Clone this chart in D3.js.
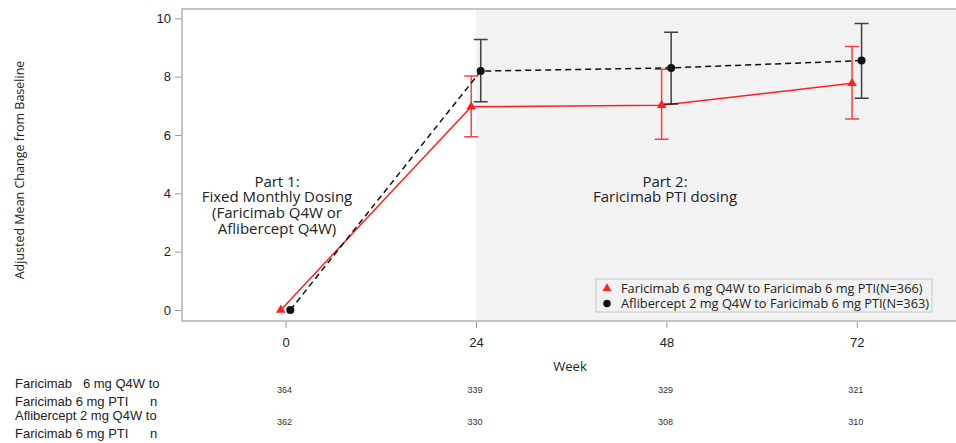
<!DOCTYPE html>
<html>
<head>
<meta charset="utf-8">
<script src="https://cdn.jsdelivr.net/npm/d3@7"></script>
<style>
  html, body { margin: 0; padding: 0; background: #fff; }
  svg { display: block; font-family: "Open Sans", "Liberation Sans", sans-serif; }
</style>
</head>
<body>
<svg id="chart" width="956" height="443"></svg>
<script>
// Visits (weeks)
const weeks = [0, 24, 48, 72];

// Faricimab 6 mg Q4W -> Faricimab 6 mg PTI
const faricimabMean  = [0, 6.97, 7.02, 7.77];
const faricimabLower = [null, 5.94, 5.85, 6.55];
const faricimabUpper = [null, 8.02, 8.25, 9.03];
const faricimabN     = [364, 339, 329, 321];

// Aflibercept 2 mg Q4W -> Faricimab 6 mg PTI
const afliberceptMean  = [0, 8.19, 8.30, 8.55];
const afliberceptLower = [null, 7.14, 7.06, 7.26];
const afliberceptUpper = [null, 9.27, 9.52, 9.82];
const afliberceptN     = [362, 330, 308, 310];

const yTicks = [0, 2, 4, 6, 8, 10];
const legendLabels = [
  "Faricimab 6 mg Q4W to Faricimab 6 mg PTI(N=366)",
  "Aflibercept 2 mg Q4W to Faricimab 6 mg PTI(N=363)"
];

const svg = d3.select("#chart");
const plot = { left: 182, right: 956, top: 9, bottom: 321 };

const x = d3.scaleLinear().domain([-13.05, 84.5]).range([plot.left, plot.right]);
const y = d3.scaleLinear().domain([0, 10]).range([310, 18.3]);

const dodge = 0.6; // weeks; separates the two groups horizontally

// Part 2 shading
svg.append("rect")
  .attr("x", x(24)).attr("y", plot.top)
  .attr("width", plot.right - x(24)).attr("height", plot.bottom - plot.top)
  .attr("fill", "#f2f2f2");

// Frame (top, left, bottom)
svg.append("path")
  .attr("d", `M${plot.right},${plot.top}H${plot.left}V${plot.bottom}H${plot.right}`)
  .attr("fill", "none").attr("stroke", "#c4c4c4").attr("stroke-width", 2);

// Y axis
const yAxis = svg.append("g").attr("transform", `translate(${plot.left - 1},0)`)
  .call(d3.axisLeft(y).tickValues(yTicks).tickSize(6).tickPadding(4).tickFormat(d3.format("d")));
yAxis.select(".domain").remove();
yAxis.selectAll("line").attr("stroke", "#999");
yAxis.selectAll("text").attr("font-size", 13).attr("fill", "#222")
  .attr("font-family", "'Liberation Sans', Arial, sans-serif");

// X axis
const xAxis = svg.append("g").attr("transform", `translate(0,${plot.bottom + 1})`)
  .call(d3.axisBottom(x).tickValues(weeks).tickSize(6).tickPadding(10).tickFormat(d3.format("d")));
xAxis.select(".domain").remove();
xAxis.selectAll("line").attr("stroke", "#999");
xAxis.selectAll("text").attr("font-size", 13).attr("fill", "#222")
  .attr("font-family", "'Liberation Sans', Arial, sans-serif");

svg.append("text").attr("x", 570).attr("y", 371).attr("text-anchor", "middle")
  .attr("font-size", 13).attr("fill", "#222").text("Week");

svg.append("text")
  .attr("transform", "translate(24,170) rotate(-90)")
  .attr("text-anchor", "middle").attr("font-size", 12.5).attr("fill", "#222")
  .text("Adjusted Mean Change from Baseline");

// Annotation text
const part1 = ["Part 1:", "Fixed Monthly Dosing", "(Faricimab Q4W or", "Aflibercept Q4W)"];
svg.append("text").attr("text-anchor", "middle").attr("font-size", 15).attr("fill", "#222")
  .selectAll("tspan").data(part1).join("tspan")
  .attr("x", 277).attr("y", (d, i) => 186.5 + i * 15.7).text(d => d);

const part2 = ["Part 2:", "Faricimab PTI dosing"];
svg.append("text").attr("text-anchor", "middle").attr("font-size", 15).attr("fill", "#222")
  .selectAll("tspan").data(part2).join("tspan")
  .attr("x", 665).attr("y", (d, i) => 186.5 + i * 15.7).text(d => d);

// Series
const series = [
  { mean: faricimabMean, lo: faricimabLower, hi: faricimabUpper, off: -dodge,
    color: "#ff2020", dash: null, symbol: d3.symbolTriangle },
  { mean: afliberceptMean, lo: afliberceptLower, hi: afliberceptUpper, off: dodge,
    color: "#111", dash: "6,4", symbol: d3.symbolCircle }
];

series.forEach(s => {
  const pts = weeks.map((w, i) => ({ w: w + s.off, m: s.mean[i], lo: s.lo[i], hi: s.hi[i] }));
  const g = svg.append("g");
  // error bars
  const eb = pts.filter(p => p.lo != null);
  g.selectAll("path.eb").data(eb).join("path")
    .attr("d", p => {
      const cx = x(p.w), yl = y(p.lo), yh = y(p.hi);
      return `M${cx - 7},${yh}H${cx + 7}M${cx},${yh}V${yl}M${cx - 7},${yl}H${cx + 7}`;
    })
    .attr("fill", "none").attr("stroke", s.color).attr("stroke-width", 1.5)
    .attr("stroke-opacity", s.dash ? 0.8 : 0.85);
  // line
  g.append("path").datum(pts)
    .attr("d", d3.line().x(p => x(p.w)).y(p => y(p.m)))
    .attr("fill", "none").attr("stroke", s.color).attr("stroke-width", 1.5)
    .attr("stroke-dasharray", s.dash);
  // markers
  g.selectAll("path.mk").data(pts).join("path")
    .attr("transform", p => `translate(${x(p.w)},${y(p.m)})`)
    .attr("d", d3.symbol(s.symbol, s.symbol === d3.symbolCircle ? 50 : 40))
    .attr("fill", s.color);
});

// Legend
const lg = svg.append("g");
lg.append("rect").attr("x", 596).attr("y", 279).attr("width", 336).attr("height", 33)
  .attr("fill", "#f2f2f2").attr("stroke", "#c8c8c8").attr("stroke-width", 1);
series.forEach((s, i) => {
  const cy = 288.5 + i * 15;
  lg.append("path").attr("transform", `translate(607,${cy})`)
    .attr("d", d3.symbol(s.symbol, s.symbol === d3.symbolCircle ? 45 : 35)).attr("fill", s.color);
  lg.append("text").attr("x", 621).attr("y", cy + 4.5).attr("font-size", 12.8).attr("fill", "#222")
    .text(legendLabels[i]);
});

// At-risk table
const tableFont = "'Liberation Sans Narrow', 'Liberation Sans', sans-serif";
const rowLabels = [
  ["Faricimab   6 mg Q4W to", "Faricimab 6 mg PTI"],
  ["Aflibercept 2 mg Q4W to", "Faricimab 6 mg PTI"]
];
const rowN = [faricimabN, afliberceptN];
rowLabels.forEach((lines, r) => {
  const base = 388 + r * 32;
  svg.append("text").attr("x", 15).attr("y", base).attr("font-size", 13)
    .attr("font-family", tableFont).attr("fill", "#222").attr("xml:space", "preserve").text(lines[0]);
  svg.append("text").attr("x", 15).attr("y", base + 18).attr("font-size", 13)
    .attr("font-family", tableFont).attr("fill", "#222").text(lines[1]);
  svg.append("text").attr("x", 150).attr("y", base + 18).attr("font-size", 13)
    .attr("font-family", tableFont).attr("fill", "#222").text("n");
  svg.append("g").selectAll("text").data(weeks).join("text")
    .attr("x", w => x(w) - 1).attr("y", base + 5).attr("text-anchor", "middle")
    .attr("font-size", 9).attr("font-family", tableFont).attr("fill", "#333")
    .text((w, i) => rowN[r][i]);
});
</script>
</body>
</html>
